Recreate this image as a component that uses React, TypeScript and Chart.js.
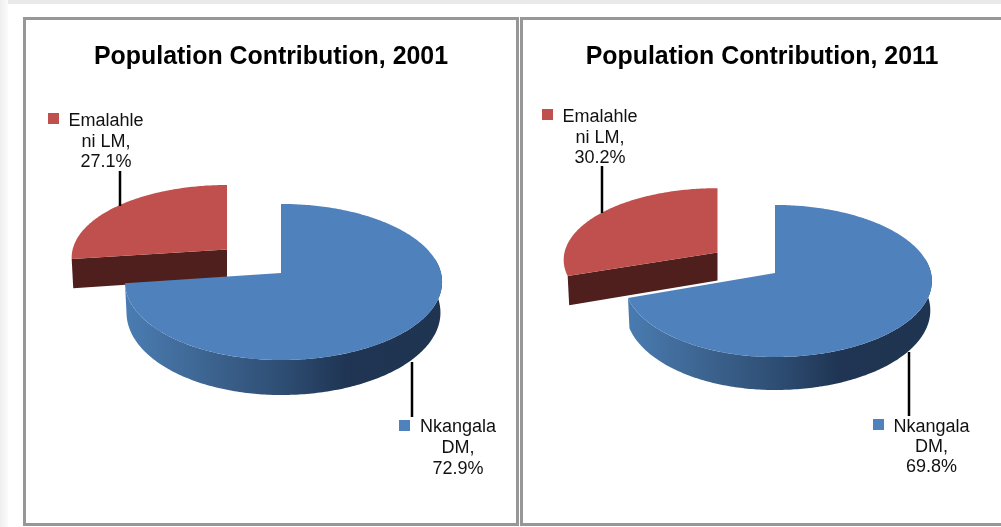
import React, { useEffect, useRef } from "react";
import { Chart, registerables } from "chart.js";

Chart.register(...registerables);

const categories = ["Nkangala DM", "Emalahle ni LM"];
const labelLines = [["Nkangala", "DM,"], ["Emalahle", "ni LM,"]];
const values2001 = [72.9, 27.1];
const values2011 = [69.8, 30.2];
const titles = ["Population Contribution, 2001", "Population Contribution, 2011"];
const explode = [0, 0.48];
const topColors = ["#4f81bd", "#c0504d"];
const FONT = '"Liberation Sans", Arial, sans-serif';

const layouts = [
  {
    left: 26, top: 20, width: 490, height: 502,
    cx: 281, cy: 273, rL: 155, rR: 160, a: 77, k: 0.115, d0: 30, d1: 5, redX: -54, rRed: 160,
    labels: [
      { keyX: 399, keyY: 420, textX: 458, base: [432, 453, 474], lineX: 412, lineY0: 362, lineY1: 417 },
      { keyX: 48, keyY: 113, textX: 106, base: [126, 147, 167], lineX: 120, lineY0: 171, lineY1: 206 },
    ],
  },
  {
    left: 523, top: 20, width: 478, height: 502,
    cx: 775, cy: 273, rL: 150, rR: 156, a: 75.2, k: 0.105, d0: 29, d1: 4, redX: -57.5, rRed: 157.5,
    labels: [
      { keyX: 873, keyY: 419, textX: 931.5, base: [432, 452, 472], lineX: 909, lineY0: 352, lineY1: 416 },
      { keyX: 542, keyY: 109, textX: 600, base: [122, 143, 163], lineX: 602, lineY0: 166, lineY1: 213 },
    ],
  },
];

const TAU = Math.PI * 2;

function makePlugin(L: any) {
  const proj = (u: number, w: number, low: boolean) => {
    const f = 1 / (1 - L.k * w);
    const r = u < 0 ? L.rL : L.rR;
    let x = u * r * f;
    let y = L.a * w * f;
    if (low) {
      x *= 0.99;
      y += L.d0 + L.d1 * w;
    }
    return [L.cx + x - L.left, L.cy + y - L.top];
  };
  // the exploded slice: s is the sine of the rim angle, w the depth in the disc
  const projRed = (s: number, w: number, low: boolean) => {
    const f = 1 / (1 - L.k * w);
    let x = s * L.rRed * f;
    let y = L.a * w * f;
    if (low) {
      x *= 0.99;
      y += L.d0 + L.d1 * w;
    }
    return [L.cx + L.redX + x - L.left, L.cy + y - L.top];
  };
  const rim = (t0: number, t1: number, low: boolean) => {
    const pts: number[][] = [];
    const n = Math.max(2, Math.ceil(Math.abs(t1 - t0) / 0.015));
    for (let i = 0; i <= n; i++) {
      const t = t0 + ((t1 - t0) * i) / n;
      pts.push(proj(Math.sin(t), -Math.cos(t), low));
    }
    return pts;
  };
  const rimRed = (w0: number, t0: number, t1: number) => {
    const pts: number[][] = [];
    const n = Math.max(2, Math.ceil(Math.abs(t1 - t0) / 0.015));
    for (let i = 0; i <= n; i++) {
      const t = t0 + ((t1 - t0) * i) / n;
      pts.push(projRed(Math.sin(t), w0 - Math.cos(t), false));
    }
    return pts;
  };
  const fillPoly = (ctx: any, pts: number[][], fill: any) => {
    ctx.beginPath();
    pts.forEach((p, i) => (i ? ctx.lineTo(p[0], p[1]) : ctx.moveTo(p[0], p[1])));
    ctx.closePath();
    ctx.fillStyle = fill;
    ctx.fill();
  };
  return {
    id: "pie3d",
    beforeDatasetDraw(chart: any) {
      const ctx = chart.ctx;
      const arcs = chart.getDatasetMeta(0).data;
      const ds = chart.data.datasets[0];
      const ang = arcs.map((a: any) => [a.startAngle + Math.PI / 2, a.endAngle + Math.PI / 2]);

      // exploded red slice
      const [rs, re] = ang[1];
      const mid = (rs + re) / 2;
      const w0 = -Math.cos(mid) * explode[1];
      const sS = Math.sin(rs);
      const sW = w0 - Math.cos(rs);
      fillPoly(
        ctx,
        [projRed(0, w0, false), projRed(sS, sW, false), projRed(sS, sW, true), projRed(0, w0, true)],
        "#4e1f1d"
      );
      fillPoly(ctx, [projRed(0, w0, false), ...rimRed(w0, rs, re)], ds.backgroundColor[1]);

      // blue slice: wall, then top face
      const [bs, be] = ang[0];
      const wallStart = bs + TAU * 0.22;
      const upper = rim(wallStart, be, false);
      const lower = rim(wallStart, be, true).reverse();
      const x0 = L.cx - L.rL - L.left;
      const x1 = L.cx + L.rR - L.left;
      const g = ctx.createLinearGradient(x0, 0, x1, 0);
      g.addColorStop(0, "#4a7cb2");
      g.addColorStop(0.25, "#3d6591");
      g.addColorStop(0.5, "#2e4d73");
      g.addColorStop(0.7, "#1f3553");
      g.addColorStop(1, "#1e3450");
      fillPoly(ctx, [...upper, ...lower], g);
      fillPoly(ctx, [proj(0, 0, false), ...rim(bs, be, false)], ds.backgroundColor[0]);

      // data labels, legend keys, leader lines
      L.labels.forEach((lab: any, i: number) => {
        ctx.strokeStyle = "#000";
        ctx.lineWidth = 2.5;
        ctx.beginPath();
        ctx.moveTo(lab.lineX - L.left, lab.lineY0 - L.top);
        ctx.lineTo(lab.lineX - L.left, lab.lineY1 - L.top);
        ctx.stroke();
        ctx.fillStyle = ds.backgroundColor[i];
        ctx.fillRect(lab.keyX - L.left, lab.keyY - L.top, 11, 11);
        ctx.fillStyle = "#111";
        ctx.font = `18px ${FONT}`;
        ctx.textAlign = "center";
        ctx.textBaseline = "alphabetic";
        const lines = [...labelLines[i], `${ds.data[i].toFixed(1)}%`];
        lines.forEach((t: string, j: number) => ctx.fillText(t, lab.textX - L.left, lab.base[j] - L.top));
      });
      return false;
    },
  };
}

function PieChart({ index, values }: { index: number; values: number[] }) {
  const ref = useRef<HTMLCanvasElement>(null);
  const L = layouts[index];
  useEffect(() => {
    const chart = new Chart(ref.current as HTMLCanvasElement, {
      type: "pie",
      data: {
        labels: categories,
        datasets: [{ data: values, backgroundColor: topColors, borderWidth: 0 }],
      },
      options: {
        responsive: false,
        animation: false,
        layout: { padding: 0 },
        plugins: {
          legend: { display: false },
          tooltip: { enabled: false },
          title: {
            display: true,
            text: titles[index],
            color: "#000",
            font: { family: FONT, size: 24.9, weight: "bold" },
            padding: { top: 22, bottom: 10 },
          },
        },
      },
      plugins: [makePlugin(L)],
    } as any);
    return () => chart.destroy();
  }, []);
  return (
    <canvas
      ref={ref}
      width={L.width}
      height={L.height}
      style={{ position: "absolute", left: L.left, top: L.top, width: L.width, height: L.height }}
    />
  );
}

const frame = (left: number, width: number): React.CSSProperties => ({
  position: "absolute",
  left,
  top: 17,
  width,
  height: 509,
  boxSizing: "border-box",
  border: "3px solid #979797",
});

export default function App() {
  return (
    <div style={{ position: "fixed", inset: 0, width: 1001, height: 527, overflow: "hidden", background: "#fff" }}>
      <div style={{ position: "absolute", left: 0, top: 0, width: 1001, height: 4, background: "#e9e9e9" }} />
      <div
        style={{
          position: "absolute", left: 0, top: 0, width: 8, height: 527,
          background: "linear-gradient(to right, #efefef, #fbfbfb)",
        }}
      />
      <div style={frame(23, 496)} />
      <div style={frame(520, 500)} />
      <PieChart index={0} values={values2001} />
      <PieChart index={1} values={values2011} />
    </div>
  );
}
